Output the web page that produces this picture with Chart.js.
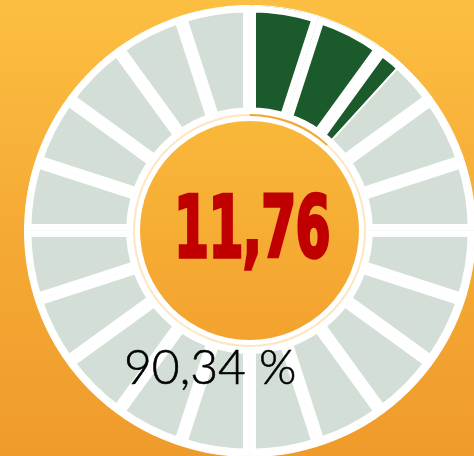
<!DOCTYPE html>
<html lang="pt">
  <head>
    <meta charset="UTF-8" />
    <meta name="viewport" content="width=device-width, initial-scale=1.0" />
    <title>Indicador</title>
    <script src="https://cdn.jsdelivr.net/npm/chart.js"></script>
    <style>
      html,
      body {
        margin: 0;
        padding: 0;
        width: 474px;
        height: 456px;
        overflow: hidden;
      }
      body {
        position: relative;
        background: linear-gradient(180deg, #fcbf41 0%, #f5aa35 50%, #ef9b2b 100%);
      }
      .disc {
        position: absolute;
        border-radius: 50%;
      }
      #whiteDisc {
        left: 23.5px;
        top: 4.5px;
        width: 452px;
        height: 452px;
        background: #ffffff;
      }
      #innerDisc {
        left: 140px;
        top: 121px;
        width: 219px;
        height: 219px;
        background: linear-gradient(180deg, #f9b83a 0%, #f3a22e 100%);
      }
      .layer {
        position: absolute;
        left: 20px;
        top: 1px;
        width: 459px;
        height: 459px;
      }
      #valor {
        position: absolute;
        left: 102px;
        top: 184px;
        width: 300px;
        text-align: center;
        font-family: "Liberation Sans Narrow", "DejaVu Sans Condensed", sans-serif;
        font-weight: bold;
        font-size: 86px;
        line-height: 86px;
        letter-spacing: -1px;
        color: #c00000;
        -webkit-text-stroke: 3.5px #c00000;
        transform: scaleX(0.65);
      }
      #percentual {
        position: absolute;
        left: 124px;
        top: 338px;
        font-family: Lato, "Noto Sans", sans-serif;
        font-weight: 300;
        font-size: 48px;
        line-height: 56px;
        color: #000000;
        -webkit-text-stroke: 0.6px #000000;
        white-space: nowrap;
      }
    </style>
  </head>
  <body>
    <div class="disc" id="whiteDisc"></div>
    <div class="disc" id="innerDisc"></div>
    <div class="layer"><canvas id="parcial"></canvas></div>
    <div class="layer"><canvas id="segmentos"></canvas></div>
    <div class="layer"><canvas id="progresso"></canvas></div>
    <div id="valor">11,76</div>
    <div id="percentual">90,34 %</div>
    <script>
      // dados do indicador
      const valor = 11.76;
      const percentualTexto = "90,34 %";
      const totalSegmentos = 20;

      const verde = "#1b5a2b";
      const cinza = "#d3ded6";
      const laranja = "#f4a52c";
      const creme = "#fde6c0";

      // raios do anel (px)
      const raioExterno = 225;
      const raioInterno = 116.5;
      const raioFaixa = 116.5;
      const raioFaixaInterno = 114.5;

      // graus preenchidos e divisao em segmentos
      const passo = 360 / totalSegmentos;
      const preenchido = valor * 3.6;
      const cheios = Math.floor(preenchido / passo);

      const segmentos = [];
      const coresSegmentos = [];
      for (let i = 0; i < totalSegmentos; i++) {
        segmentos.push(passo);
        if (i < cheios) coresSegmentos.push(verde);
        else if (i === cheios) coresSegmentos.push("transparent");
        else coresSegmentos.push(cinza);
      }

      // segmento parcial: parte verde + parte cinza, com linha fina entre eles
      const parcial = [
        cheios * passo,
        preenchido - cheios * passo,
        (cheios + 1) * passo - preenchido,
        360 - (cheios + 1) * passo,
      ];

      const progresso = [valor, 100 - valor];

      const base = {
        responsive: true,
        maintainAspectRatio: false,
        animation: false,
        events: [],
        layout: { padding: 0 },
        plugins: { legend: { display: false }, tooltip: { enabled: false } },
      };

      function corte(interno, externo) {
        return (interno / externo) * 100 + "%";
      }

      new Chart(document.querySelector("#parcial"), {
        type: "doughnut",
        data: {
          datasets: [
            {
              data: parcial,
              backgroundColor: ["transparent", verde, cinza, "transparent"],
              borderColor: "#ffffff",
              borderWidth: [0, 2, 2, 0],
            },
          ],
        },
        options: { ...base, radius: raioExterno, cutout: corte(raioInterno, raioExterno) },
      });

      new Chart(document.querySelector("#segmentos"), {
        type: "doughnut",
        data: {
          datasets: [
            {
              data: segmentos,
              backgroundColor: coresSegmentos,
              borderColor: "#ffffff",
              borderWidth: 6.5,
              borderAlign: "inner",
            },
          ],
        },
        options: { ...base, radius: raioExterno, cutout: corte(raioInterno, raioExterno) },
      });

      new Chart(document.querySelector("#progresso"), {
        type: "doughnut",
        data: {
          datasets: [
            {
              data: progresso,
              backgroundColor: [laranja, creme],
              borderWidth: 0,
            },
          ],
        },
        options: { ...base, radius: raioFaixa, cutout: corte(raioFaixaInterno, raioFaixa) },
      });

      document.querySelector("#percentual").textContent = percentualTexto;
      document.querySelector("#valor").textContent = valor.toFixed(2).replace(".", ",");
    </script>
  </body>
</html>
